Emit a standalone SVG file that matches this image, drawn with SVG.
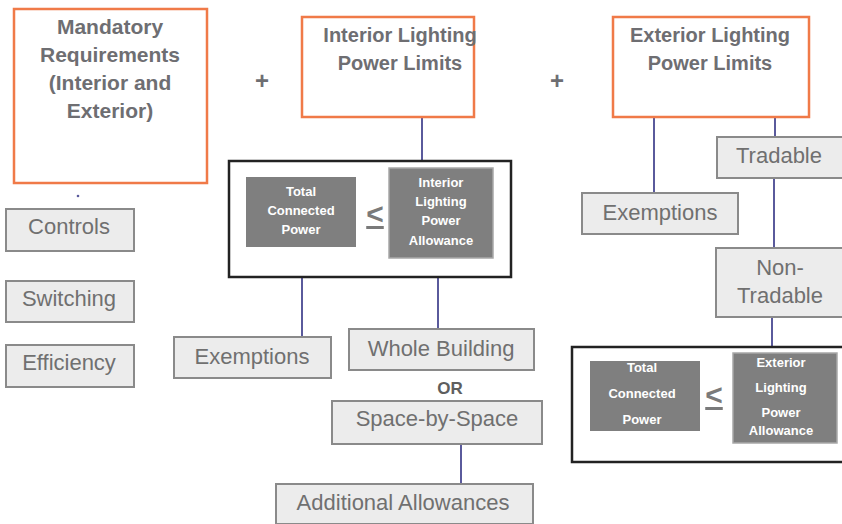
<svg xmlns="http://www.w3.org/2000/svg" width="842" height="524" viewBox="0 0 842 524">
<style>
.title{font-family:"Liberation Sans",Arial,sans-serif;font-weight:bold;font-size:20px;fill:#6e6e72;text-anchor:middle}
.mt{font-size:21px}
.orange{fill:#ffffff;stroke:#f07a48;stroke-width:2.5}
.gbox{fill:#ececec;stroke:#8a8a8a;stroke-width:2}
.lbl{font-family:"Liberation Sans",Arial,sans-serif;font-size:22px;fill:#707070;text-anchor:middle}
.frame{fill:#ffffff;stroke:#222222;stroke-width:2.5}
.dark{fill:#7f7f7f}
.dark2{fill:#7f7f7f;stroke:#a8a8a8;stroke-width:1.5}
.wt{font-family:"Liberation Sans",Arial,sans-serif;font-weight:bold;font-size:13px;fill:#ffffff;text-anchor:middle}
.le{font-family:"Liberation Sans",Arial,sans-serif;font-weight:bold;font-size:30px;fill:#7a7a7a;text-anchor:middle;text-decoration:underline}
.plus{font-family:"Liberation Sans",Arial,sans-serif;font-weight:bold;font-size:24px;fill:#6e6e72;text-anchor:middle}
.conn{stroke:#5a5a9c;stroke-width:2;fill:none}
</style>
<rect width="842" height="524" fill="#ffffff"/>

<g id="connectors">
<line class="conn" x1="422" y1="118" x2="422" y2="160"/>
<line class="conn" x1="302" y1="278" x2="302" y2="337"/>
<line class="conn" x1="438" y1="278" x2="438" y2="329"/>
<line class="conn" x1="461" y1="444" x2="461" y2="484"/>
<line class="conn" x1="654" y1="118" x2="654" y2="193"/>
<line class="conn" x1="775" y1="118" x2="775" y2="137"/>
<line class="conn" x1="774" y1="178" x2="774" y2="248"/>
<line class="conn" x1="772" y1="317" x2="772" y2="347"/>
<circle cx="78" cy="196" r="1.3" fill="#5a5a9c"/>
</g>

<g id="mandatory">
<rect class="orange" x="14" y="9" width="193" height="174"/>
<text class="title mt" x="110" y="34">Mandatory</text>
<text class="title mt" x="110" y="62">Requirements</text>
<text class="title mt" x="110" y="90">(Interior and</text>
<text class="title mt" x="110" y="118">Exterior)</text>
</g>

<text class="plus" x="262" y="89">+</text>
<text class="plus" x="557" y="89">+</text>

<g id="interior">
<rect class="orange" x="302" y="17" width="172" height="100"/>
<text class="title" x="400" y="42">Interior Lighting</text>
<text class="title" x="400" y="70">Power Limits</text>
</g>

<g id="exterior">
<rect class="orange" x="613" y="17" width="196" height="100"/>
<text class="title" x="710" y="42">Exterior Lighting</text>
<text class="title" x="710" y="70">Power Limits</text>
</g>

<g id="controls">
<rect class="gbox" x="6" y="209" width="128" height="42"/>
<text class="lbl" x="69" y="234">Controls</text>
</g>
<g id="switching">
<rect class="gbox" x="6" y="281" width="128" height="41"/>
<text class="lbl" x="69" y="306">Switching</text>
</g>
<g id="efficiency">
<rect class="gbox" x="6" y="345" width="128" height="42"/>
<text class="lbl" x="69" y="370">Efficiency</text>
</g>

<g id="interior-compare">
<rect class="frame" x="229" y="161" width="282" height="116"/>
<rect class="dark" x="246" y="177" width="110" height="70"/>
<text class="wt" x="301" y="196">Total</text>
<text class="wt" x="301" y="215">Connected</text>
<text class="wt" x="301" y="234">Power</text>
<text class="le" x="375" y="224">&lt;</text>
<rect class="dark2" x="389" y="168" width="104" height="90"/>
<text class="wt" x="441" y="187">Interior</text>
<text class="wt" x="441" y="206">Lighting</text>
<text class="wt" x="441" y="225">Power</text>
<text class="wt" x="441" y="245">Allowance</text>
</g>

<g id="int-exemptions">
<rect class="gbox" x="174" y="337" width="157" height="41"/>
<text class="lbl" x="252" y="364">Exemptions</text>
</g>
<g id="whole-building">
<rect class="gbox" x="349" y="329" width="185" height="41"/>
<text class="lbl" x="441" y="356">Whole Building</text>
</g>
<text x="450" y="394" style="font-family:'Liberation Sans',Arial,sans-serif;font-weight:bold;font-size:17px;fill:#5e5e5e;text-anchor:middle">OR</text>
<g id="space-by-space">
<rect class="gbox" x="332" y="401" width="210" height="43"/>
<text class="lbl" x="437" y="426">Space-by-Space</text>
</g>
<g id="additional">
<rect class="gbox" x="276" y="484" width="257" height="40"/>
<text class="lbl" x="403" y="510">Additional Allowances</text>
</g>

<g id="ext-exemptions">
<rect class="gbox" x="582" y="193" width="156" height="41"/>
<text class="lbl" x="660" y="220">Exemptions</text>
</g>
<g id="tradable">
<rect class="gbox" x="717" y="137" width="128" height="41"/>
<text class="lbl" x="779" y="163">Tradable</text>
</g>
<g id="non-tradable">
<rect class="gbox" x="716" y="248" width="129" height="69"/>
<text class="lbl" x="780" y="275">Non-</text>
<text class="lbl" x="780" y="303">Tradable</text>
</g>

<g id="exterior-compare">
<rect class="frame" x="572" y="347" width="275" height="115"/>
<rect class="dark" x="590" y="361" width="110" height="70"/>
<text class="wt" x="642" y="372">Total</text>
<text class="wt" x="642" y="398">Connected</text>
<text class="wt" x="642" y="424">Power</text>
<text class="le" x="714" y="405">&lt;</text>
<rect class="dark2" x="733" y="353" width="104" height="90"/>
<text class="wt" x="781" y="367">Exterior</text>
<text class="wt" x="781" y="392">Lighting</text>
<text class="wt" x="781" y="417">Power</text>
<text class="wt" x="781" y="435">Allowance</text>
</g>
</svg>
